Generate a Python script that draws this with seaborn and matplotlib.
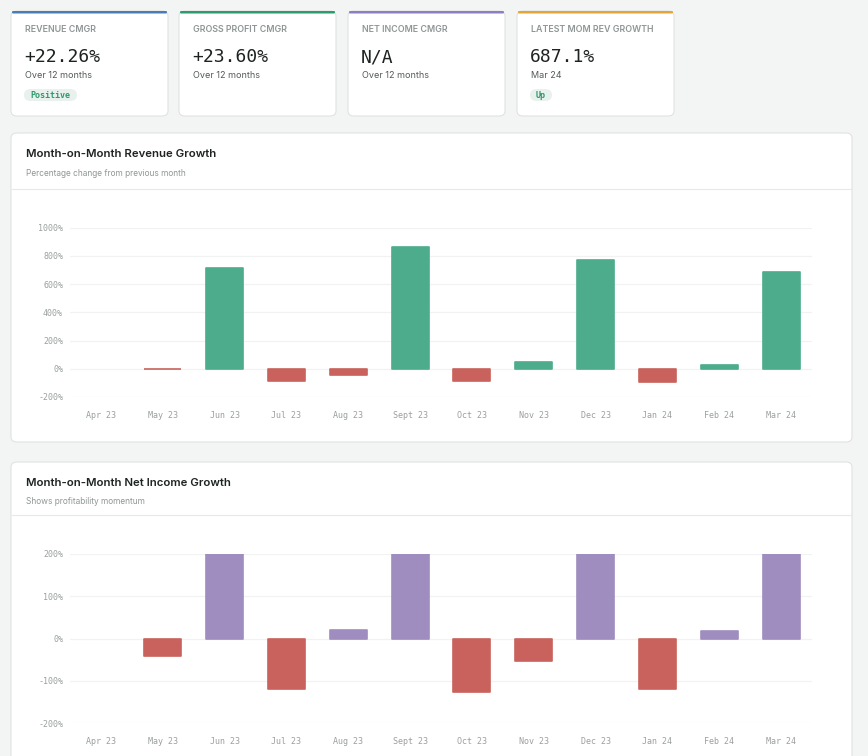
import matplotlib
matplotlib.use("Agg")
import matplotlib.pyplot as plt
from matplotlib.patches import FancyBboxPatch
import seaborn as sns
import pandas as pd

# ---------------- data ----------------
months = ["Apr 23", "May 23", "Jun 23", "Jul 23", "Aug 23", "Sept 23",
          "Oct 23", "Nov 23", "Dec 23", "Jan 24", "Feb 24", "Mar 24"]
rev_growth = [0, -5, 712, -85, -42, 861, -85, 45, 769, -94, 26, 687.1]
ni_growth = [0, -41, 200, -119, 20, 200, -125, -53, 200, -120, 17, 200]

rev_ticks = [-200, 0, 200, 400, 600, 800, 1000]
ni_ticks = [-200, -100, 0, 100, 200]

kpi_labels = ["REVENUE CMGR", "GROSS PROFIT CMGR", "NET INCOME CMGR", "LATEST MOM REV GROWTH"]
kpi_values = ["+22.26%", "+23.60%", "N/A", "687.1%"]
kpi_subs = ["Over 12 months", "Over 12 months", "Over 12 months", "Mar 24"]
kpi_badges = ["Positive", None, None, "Up"]
kpi_colors = ["#4a7db3", "#2f9a6c", "#8f7cc4", "#e2a53a"]

# ---------------- style ----------------
sns.set_theme(style="white")
plt.rcParams["font.family"] = ["Inter", "DejaVu Sans"]

W, H = 868, 756
fig = plt.figure(figsize=(W / 100, H / 100), dpi=100)
fig.patch.set_facecolor("#f3f5f4")

def fx(x):
    return x / W

def fy(y):
    return 1 - y / H

def card(x0, y0, x1, y1, top=None, r=6):
    p = FancyBboxPatch((fx(x0), fy(y1)), fx(x1) - fx(x0), fy(y0) - fy(y1),
                       boxstyle=f"round,pad=0,rounding_size={r / W}",
                       transform=fig.transFigure, facecolor="white",
                       edgecolor="#dfe3e2", linewidth=0.8, zorder=0)
    fig.add_artist(p)
    if top is not None:
        t = FancyBboxPatch((fx(x0 + 1), fy(y0 + 2.5)), fx(x1 - 1) - fx(x0 + 1), 2.5 / H,
                           boxstyle=f"round,pad=0,rounding_size={1.2 / W}",
                           transform=fig.transFigure, facecolor=top,
                           edgecolor="none", zorder=1)
        fig.add_artist(t)

mono = ["DejaVu Sans Mono"]

# ---------------- KPI cards ----------------
card_x = [11, 179, 348, 517]
for i in range(4):
    x0 = card_x[i]
    card(x0, 11, x0 + 157, 116, top=kpi_colors[i])
    fig.text(fx(x0 + 14), fy(30), kpi_labels[i], fontsize=6.4, color="#8f9695",
             fontweight="semibold", va="center", ha="left")
    fig.text(fx(x0 + 13), fy(57), kpi_values[i], fontsize=13, color="#1e2322",
             family=mono, fontweight="medium", va="center", ha="left")
    fig.text(fx(x0 + 14), fy(76), kpi_subs[i], fontsize=6.5, color="#555b5a",
             va="center", ha="left")
    b = kpi_badges[i]
    if b:
        bw = 53 if len(b) > 3 else 22
        pill = FancyBboxPatch((fx(x0 + 13), fy(101)), bw / W, 12 / H,
                              boxstyle=f"round,pad=0,rounding_size={6 / H}",
                              transform=fig.transFigure, facecolor="#e8f1ee",
                              edgecolor="none", zorder=1)
        fig.add_artist(pill)
        fig.text(fx(x0 + 13 + bw / 2), fy(95.5), b, fontsize=6, color="#2f9a6c",
                 family=mono, fontweight="bold", va="center", ha="center")

# ---------------- chart panels ----------------
def panel(y0, y1, title, subtitle, divider):
    card(11, y0, 852, y1)
    fig.add_artist(plt.Line2D([fx(11.5), fx(851.5)], [fy(divider), fy(divider)],
                              transform=fig.transFigure, color="#e6e9e8", lw=0.8))
    fig.text(fx(26), fy(y0 + 21), title, fontsize=8.2, color="#1e2322",
             fontweight="semibold", va="center", ha="left")
    fig.text(fx(26), fy(y0 + 40), subtitle, fontsize=6, color="#8f9695",
             va="center", ha="left")

panel(133, 442, "Month-on-Month Revenue Growth", "Percentage change from previous month", 189)
panel(462, 790, "Month-on-Month Net Income Growth", "Shows profitability momentum", 515)

POS = {"rev": "#4cac8c", "ni": "#9f8dc0"}
NEG = "#c9625c"

def bar_chart(ax, values, kind, ticks, ylim):
    df = pd.DataFrame({"month": months, "value": values})
    df["sign"] = ["neg" if v < 0 else "pos" for v in values]
    sns.barplot(data=df, x="month", y="value", hue="sign",
                palette={"pos": POS[kind], "neg": NEG}, dodge=False,
                width=0.6, legend=False, ax=ax, saturation=1, zorder=3)
    for p in ax.patches:
        if abs(p.get_height()) < 1e-9:
            p.set_linewidth(0)
            continue
        p.set_edgecolor(p.get_facecolor())
        p.set_linewidth(1.2)
        p.set_joinstyle("round")
    ax.set_ylim(*ylim)
    ax.set_xlim(-0.5, len(months) - 0.5)
    ax.set_yticks(ticks)
    ax.set_yticklabels([f"{t}%" for t in ticks])
    ax.set_xlabel("")
    ax.set_ylabel("")
    ax.set_facecolor("none")
    for s in ax.spines.values():
        s.set_visible(False)
    ax.grid(axis="y", color="#f1f2f2", linewidth=0.9, zorder=0)
    ax.grid(axis="x", visible=False)
    ax.tick_params(axis="both", length=0, labelsize=6, labelcolor="#9aa09f")
    ax.tick_params(axis="x", pad=10)
    ax.tick_params(axis="y", pad=5)
    for lab in ax.get_xticklabels() + ax.get_yticklabels():
        lab.set_fontfamily(mono)
    ax.set_axisbelow(True)

ax1 = fig.add_axes([fx(70), fy(397), fx(812) - fx(70), (397 - 227.7) / H])
bar_chart(ax1, rev_growth, "rev", rev_ticks, (-200, 1000))

ax2 = fig.add_axes([fx(70), fy(723.3), fx(812) - fx(70), (723.3 - 553.7) / H])
bar_chart(ax2, ni_growth, "ni", ni_ticks, (-200, 200))

fig.savefig("out.png", dpi=100, facecolor=fig.get_facecolor())
